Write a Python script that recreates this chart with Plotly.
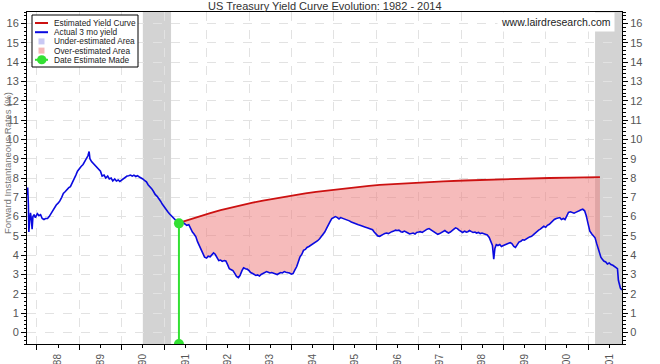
import plotly.graph_objects as go

# ---------------- data ----------------
blue_dates = [
    "1987-10-07", "1987-10-13", "1987-10-19", "1987-10-23", "1987-10-30", "1987-11-06", "1987-11-13",
    "1987-11-20", "1987-11-27", "1987-12-07", "1987-12-18",
    "1988-01-04", "1988-01-18", "1988-02-01", "1988-02-15", "1988-03-01", "1988-03-15",
    "1988-04-01", "1988-04-15", "1988-05-01", "1988-05-15", "1988-06-01", "1988-06-15",
    "1988-07-01", "1988-07-15", "1988-08-01", "1988-08-15", "1988-09-01", "1988-09-15",
    "1988-10-01", "1988-10-15", "1988-11-01", "1988-11-15", "1988-12-01", "1988-12-15",
    "1989-01-01", "1989-01-15", "1989-02-01", "1989-02-15", "1989-03-01", "1989-03-15", "1989-03-25",
    "1989-04-01", "1989-04-15", "1989-05-01", "1989-05-15", "1989-06-01", "1989-06-15",
    "1989-07-01", "1989-07-15", "1989-08-01", "1989-08-15", "1989-09-01", "1989-09-15",
    "1989-10-01", "1989-10-15", "1989-11-01", "1989-11-15", "1989-12-01", "1989-12-15",
    "1990-01-01", "1990-01-15", "1990-02-01", "1990-02-15", "1990-03-01", "1990-03-15",
    "1990-04-01", "1990-04-15", "1990-05-01", "1990-05-15", "1990-06-01", "1990-06-15",
    "1990-07-01", "1990-07-15", "1990-08-01", "1990-08-15", "1990-09-01", "1990-09-15",
    "1990-10-01", "1990-10-15", "1990-11-01", "1990-11-15", "1990-12-01", "1990-12-15",
    "1991-01-01", "1991-01-15", "1991-02-01", "1991-02-15", "1991-03-01", "1991-03-15",
    "1991-04-01", "1991-04-15", "1991-05-01", "1991-05-08", "1991-05-20",
    "1991-06-01", "1991-06-15", "1991-07-01", "1991-07-15", "1991-08-01", "1991-08-15",
    "1991-09-01", "1991-09-15", "1991-10-01", "1991-10-15", "1991-11-01", "1991-11-15",
    "1991-12-01", "1991-12-15",
    "1992-01-01", "1992-01-15", "1992-02-01", "1992-02-15", "1992-03-01", "1992-03-15",
    "1992-04-01", "1992-04-15", "1992-05-01", "1992-05-15", "1992-06-01", "1992-06-15",
    "1992-07-01", "1992-07-15", "1992-08-01", "1992-08-15", "1992-09-01", "1992-09-15",
    "1992-10-01", "1992-10-15", "1992-11-01", "1992-11-15", "1992-12-01", "1992-12-15",
    "1993-01-01", "1993-01-15", "1993-02-01", "1993-02-15", "1993-03-01", "1993-03-15",
    "1993-04-01", "1993-04-15", "1993-05-01", "1993-05-15", "1993-06-01", "1993-06-15",
    "1993-07-01", "1993-07-15", "1993-08-01", "1993-08-15", "1993-09-01", "1993-09-15",
    "1993-10-01", "1993-10-15", "1993-11-01", "1993-11-15", "1993-12-01", "1993-12-15",
    "1994-01-01", "1994-01-15", "1994-02-01", "1994-02-15", "1994-03-01", "1994-03-15",
    "1994-04-01", "1994-04-15", "1994-05-01", "1994-05-15", "1994-06-01", "1994-06-15",
    "1994-07-01", "1994-07-15", "1994-08-01", "1994-08-15", "1994-09-01", "1994-09-15",
    "1994-10-01", "1994-10-15", "1994-11-01", "1994-11-15", "1994-12-01", "1994-12-15",
    "1995-01-01", "1995-01-15", "1995-02-01", "1995-02-15", "1995-03-01", "1995-03-15",
    "1995-04-01", "1995-04-15", "1995-05-01", "1995-05-15", "1995-06-01", "1995-06-15",
    "1995-07-01", "1995-07-15", "1995-08-01", "1995-08-15", "1995-09-01", "1995-09-15",
    "1995-10-01", "1995-10-15", "1995-11-01", "1995-11-15", "1995-12-01", "1995-12-15",
    "1996-01-01", "1996-01-15", "1996-02-01", "1996-02-15", "1996-03-01", "1996-03-15",
    "1996-04-01", "1996-04-15", "1996-05-01", "1996-05-15", "1996-06-01", "1996-06-15",
    "1996-07-01", "1996-07-15", "1996-08-01", "1996-08-15", "1996-09-01", "1996-09-15",
    "1996-10-01", "1996-10-15", "1996-11-01", "1996-11-15", "1996-12-01", "1996-12-15",
    "1997-01-01", "1997-01-15", "1997-02-01", "1997-02-15", "1997-03-01", "1997-03-15",
    "1997-04-01", "1997-04-15", "1997-05-01", "1997-05-15", "1997-06-01", "1997-06-15",
    "1997-07-01", "1997-07-15", "1997-08-01", "1997-08-15", "1997-09-01", "1997-09-15",
    "1997-10-01", "1997-10-15", "1997-11-01", "1997-11-15", "1997-12-01", "1997-12-15",
    "1998-01-01", "1998-01-15", "1998-02-01", "1998-02-15", "1998-03-01", "1998-03-15",
    "1998-04-01", "1998-04-15", "1998-05-01", "1998-05-15", "1998-06-01", "1998-06-15",
    "1998-07-01", "1998-07-15", "1998-08-01", "1998-08-15", "1998-09-01", "1998-09-15",
    "1998-09-29", "1998-10-10", "1998-10-20", "1998-11-01", "1998-11-15", "1998-12-01", "1998-12-15",
    "1999-01-01", "1999-01-15", "1999-02-01", "1999-02-15", "1999-03-01", "1999-03-15",
    "1999-04-01", "1999-04-15", "1999-05-01", "1999-05-15", "1999-06-01", "1999-06-15",
    "1999-07-01", "1999-07-15", "1999-08-01", "1999-08-15", "1999-09-01", "1999-09-15",
    "1999-10-01", "1999-10-15", "1999-11-01", "1999-11-15", "1999-12-01", "1999-12-15",
    "2000-01-01", "2000-01-15", "2000-02-01", "2000-02-15", "2000-03-01", "2000-03-15",
    "2000-04-01", "2000-04-15", "2000-05-01", "2000-05-15", "2000-06-01", "2000-06-15",
    "2000-07-01", "2000-07-15", "2000-08-01", "2000-08-15", "2000-09-01", "2000-09-15",
    "2000-10-01", "2000-10-15", "2000-11-01", "2000-11-15", "2000-12-01", "2000-12-15",
    "2001-01-01", "2001-01-15", "2001-02-01", "2001-02-15", "2001-03-01", "2001-03-15",
    "2001-04-01", "2001-04-12", "2001-04-20", "2001-05-01", "2001-05-15", "2001-06-01",
    "2001-06-15", "2001-07-01", "2001-07-15", "2001-08-01", "2001-08-15", "2001-09-01",
    "2001-09-10", "2001-09-18", "2001-09-26", "2001-10-05", "2001-10-19",
]
blue_vals = [
    7.1, 7.5, 6.6, 5.2, 5.8, 6.2, 5.9,
    5.35, 6.0, 6.1, 5.95,
    6.15, 6.05, 6.1, 5.9, 5.85, 5.9,
    5.9, 6.0, 6.15, 6.3, 6.5, 6.6,
    6.7, 6.8, 7.0, 7.2, 7.3, 7.4,
    7.5, 7.55, 7.75, 7.95, 8.15, 8.35,
    8.5, 8.6, 8.7, 8.85, 9.0, 9.15, 9.37,
    9.0, 8.85, 8.75, 8.7, 8.55, 8.45,
    8.35, 8.1, 8.15, 8.0, 8.1, 7.95,
    8.0, 7.85, 7.95, 7.85, 7.9, 7.82,
    7.9, 7.95, 8.05, 8.1, 8.12, 8.15,
    8.1, 8.15, 8.08, 8.12, 8.05, 8.02,
    7.95, 7.88, 7.8, 7.65, 7.55, 7.45,
    7.3, 7.15, 7.05, 6.95, 6.8, 6.65,
    6.5, 6.35, 6.25, 6.15, 6.05, 5.95,
    5.85, 5.78, 5.7, 5.65, 5.7,
    5.62, 5.68, 5.6, 5.55, 5.58, 5.4,
    5.2, 5.1, 4.95, 4.7, 4.5, 4.3,
    4.1, 3.9,
    3.85, 3.95, 3.92, 4.0, 4.12, 4.05,
    3.9, 3.72, 3.75, 3.68, 3.72, 3.7,
    3.5, 3.3, 3.25, 3.2, 3.05, 2.9,
    2.84, 2.95, 3.2, 3.35, 3.3, 3.28,
    3.2, 3.1, 3.05, 3.0, 2.95, 2.98,
    2.92, 3.0, 3.05, 3.1, 3.15, 3.12,
    3.08, 3.1, 3.05, 3.02, 3.0, 3.05,
    3.1, 3.08, 3.15, 3.12, 3.1, 3.08,
    3.02, 3.05, 3.25, 3.4, 3.65, 3.9,
    4.05, 4.25, 4.3, 4.4, 4.45, 4.5,
    4.55, 4.6, 4.7, 4.75, 4.85, 4.95,
    5.1, 5.2, 5.4, 5.6, 5.75, 5.9,
    5.97, 6.0, 5.95, 5.88, 5.95, 5.92,
    5.9, 5.85, 5.82, 5.78, 5.72, 5.68,
    5.65, 5.6, 5.58, 5.55, 5.5, 5.48,
    5.45, 5.42, 5.38, 5.35, 5.32, 5.2,
    5.1, 5.0, 4.98, 5.05, 5.08, 5.12,
    5.15, 5.12, 5.18, 5.22, 5.25, 5.3,
    5.28, 5.3, 5.22, 5.2, 5.25, 5.18,
    5.15, 5.1, 5.12, 5.15, 5.1, 5.18,
    5.2, 5.22, 5.18, 5.25, 5.3, 5.35,
    5.38, 5.32, 5.25, 5.2, 5.12, 5.08,
    5.12, 5.18, 5.25, 5.28, 5.2, 5.15,
    5.2, 5.25, 5.35, 5.42, 5.38, 5.3,
    5.22, 5.18, 5.25, 5.2, 5.22, 5.28,
    5.22, 5.18, 5.2, 5.15, 5.18, 5.12,
    5.15, 5.12, 5.1, 5.05, 4.92, 4.7,
    4.5, 3.8, 4.35, 4.55, 4.5, 4.55, 4.45,
    4.5, 4.55, 4.6, 4.62, 4.65, 4.6,
    4.45, 4.4, 4.55, 4.68, 4.72, 4.8,
    4.78, 4.85, 4.9, 4.95, 4.98, 5.05,
    5.15, 5.2, 5.3, 5.35, 5.45, 5.5,
    5.45, 5.55, 5.6, 5.7, 5.75, 5.85,
    5.9, 5.93, 5.95, 5.85, 5.9, 5.85,
    6.1, 6.22, 6.25, 6.2, 6.18, 6.22,
    6.25, 6.3, 6.35, 6.38, 6.3, 6.05,
    5.6, 5.25, 5.1, 5.0, 4.9, 4.6,
    4.2, 4.05, 3.9, 3.8, 3.7, 3.65,
    3.55, 3.6, 3.52, 3.48, 3.4, 3.35,
    3.3, 2.7, 2.45, 2.3, 2.2,
]

est_dates = [
    "1991-05-08", "1991-08-01", "1991-11-01", "1992-02-01", "1992-05-01", "1992-08-01",
    "1992-11-01", "1993-02-01", "1993-05-01", "1993-08-01", "1993-11-01", "1994-02-01",
    "1994-05-01", "1994-08-01", "1994-11-01", "1995-02-01", "1995-05-01", "1995-08-01",
    "1995-11-01", "1996-02-01", "1996-08-01", "1997-02-01", "1997-08-01", "1998-02-01",
    "1998-08-01", "1999-02-01", "1999-08-01", "2000-02-01", "2000-08-01", "2001-02-01",
    "2001-04-12",
]
est_vals = [
    5.68, 5.85, 6.02, 6.18, 6.33, 6.47,
    6.6, 6.72, 6.83, 6.93, 7.03, 7.12,
    7.2, 7.28, 7.35, 7.42, 7.48, 7.54,
    7.59, 7.64, 7.71, 7.77, 7.82, 7.87,
    7.91, 7.95, 7.98, 8.0, 8.02, 8.04,
    8.05,
]

estimate_date = "1991-05-08"
estimate_value = 5.65

recession_starts = ["1990-07-01", "2001-03-01"]
recession_ends = ["1991-03-01", "2001-11-01"]

x_range = ["1987-10-07", "2001-10-19"]
y_range = [-0.6, 16.6]

legend_labels = ["Estimated Yield Curve", "Actual 3 mo yield", "Under-estimated Area",
                 "Over-estimated Area", "Date Estimate Made"]

title_text = "US Treasury Yield Curve Evolution: 1982 - 2014"
y_title = "Forward Instantaneous Rates (%)"
watermark = "www.lairdresearch.com"

# ---------------- styling ----------------
W, H = 660, 364
ML, MR, MT, MB = 27, 38, 12, 20
PW, PH = W - ML - MR, H - MT - MB
FONT = "Liberation Sans, Arial, sans-serif"
BLUE = "#0a0ae0"
RED = "#cc1111"
GREEN = "#33e033"
PINK = "rgba(238,120,120,0.5)"
LAV = "#c9c9f4"
GRID = "#e2e2e2"


def px(x):
    return (x - ML) / PW


def py(y):
    return (H - MB - y) / PH


fig = go.Figure()

# fill between estimate and actual (base = actual subset)
sub_x = [d for d in blue_dates if est_dates[0] <= d <= est_dates[-1]]
sub_y = [v for d, v in zip(blue_dates, blue_vals) if est_dates[0] <= d <= est_dates[-1]]
fig.add_trace(go.Scatter(x=sub_x, y=sub_y, mode="lines", line=dict(width=0, color=BLUE),
                         showlegend=False, hoverinfo="skip"))
fig.add_trace(go.Scatter(x=est_dates, y=est_vals, mode="lines", fill="tonexty",
                         fillcolor=PINK, line=dict(color=RED, width=1.8),
                         showlegend=False, name=legend_labels[0]))
fig.add_trace(go.Scatter(x=blue_dates, y=blue_vals, mode="lines",
                         line=dict(color=BLUE, width=1.6), showlegend=False,
                         name=legend_labels[1]))
fig.add_trace(go.Scatter(x=[estimate_date, estimate_date], y=[estimate_value, y_range[0]],
                         mode="lines+markers", line=dict(color=GREEN, width=2),
                         marker=dict(color=GREEN, size=10, line=dict(width=0)),
                         showlegend=False, name=legend_labels[4]))
# invisible trace to activate the right-hand axis
fig.add_trace(go.Scatter(x=[estimate_date], y=[estimate_value], yaxis="y2", mode="markers",
                         marker=dict(opacity=0), showlegend=False, hoverinfo="skip"))

shapes = []
for s, e in zip(recession_starts, recession_ends):
    shapes.append(dict(type="rect", xref="x", yref="paper", x0=s, x1=e, y0=0, y1=1,
                       fillcolor="#d3d3d3", line=dict(width=0), layer="below"))

# manual legend
item_y = [23, 32.2, 41.4, 50.6, 59.8]
shapes.append(dict(type="rect", xref="paper", yref="paper", x0=px(32), x1=px(138),
                   y0=py(67), y1=py(15), fillcolor="white", line=dict(color="black", width=1),
                   layer="above"))
shapes.append(dict(type="line", xref="paper", yref="paper", x0=px(35), x1=px(48),
                   y0=py(item_y[0]), y1=py(item_y[0]), line=dict(color=RED, width=2), layer="above"))
shapes.append(dict(type="line", xref="paper", yref="paper", x0=px(35), x1=px(48),
                   y0=py(item_y[1]), y1=py(item_y[1]), line=dict(color=BLUE, width=2), layer="above"))
shapes.append(dict(type="rect", xref="paper", yref="paper", x0=px(38.5), x1=px(44.5),
                   y0=py(item_y[2] + 3), y1=py(item_y[2] - 3), fillcolor=LAV,
                   line=dict(width=0), layer="above"))
shapes.append(dict(type="rect", xref="paper", yref="paper", x0=px(38.5), x1=px(44.5),
                   y0=py(item_y[3] + 3), y1=py(item_y[3] - 3), fillcolor="#f5b8b8",
                   line=dict(width=0), layer="above"))
shapes.append(dict(type="line", xref="paper", yref="paper", x0=px(35), x1=px(48),
                   y0=py(item_y[4]), y1=py(item_y[4]), line=dict(color=GREEN, width=2), layer="above"))
shapes.append(dict(type="circle", xref="paper", yref="paper", x0=px(37), x1=px(46.5),
                   y0=py(item_y[4] + 4.5), y1=py(item_y[4] - 4.5), fillcolor=GREEN,
                   line=dict(width=0), layer="above"))

annotations = []
for lab, yy in zip(legend_labels, item_y):
    annotations.append(dict(text=lab, xref="paper", yref="paper", x=px(53), y=py(yy),
                            xanchor="left", yanchor="middle", showarrow=False, borderpad=0,
                            font=dict(family=FONT, size=8.3, color="#222")))
annotations.append(dict(text=title_text, xref="paper", yref="paper", x=px(325), y=py(6),
                        xanchor="center", yanchor="middle", showarrow=False,
                        font=dict(family=FONT, size=11, color="#333")))
annotations.append(dict(text=y_title, xref="paper", yref="paper", x=px(7), y=py(163),
                        xanchor="center", yanchor="middle", textangle=-90, showarrow=False,
                        font=dict(family=FONT, size=9.5, color="#777")))
annotations.append(dict(text=watermark, xref="paper", yref="paper", x=px(615), y=py(22.5),
                        xanchor="right", yanchor="middle", showarrow=False, bgcolor="white",
                        borderpad=3, font=dict(family=FONT, size=10.5, color="#222")))

yaxis_common = dict(range=y_range, tick0=0, dtick=1, ticks="outside", ticklen=5,
                    tickcolor="black", showline=True, linecolor="black", linewidth=1,
                    zeroline=False, automargin=False,
                    tickfont=dict(family=FONT, size=11, color="#555"),
                    minor=dict(ticks="outside", dtick=0.2, ticklen=2.5, tickcolor="black",
                               showgrid=False))

fig.update_layout(
    width=W, height=H,
    margin=dict(l=ML, r=MR, t=MT, b=MB, pad=0),
    paper_bgcolor="white", plot_bgcolor="white",
    font=dict(family=FONT),
    showlegend=False,
    xaxis=dict(type="date", range=x_range, tick0="1988-01-01", dtick="M12",
               ticklabelmode="period", tickformat="%y", tickangle=-90,
               ticks="outside", ticklen=5, tickcolor="black",
               showline=True, linecolor="black", linewidth=1, mirror=True,
               showgrid=True, gridcolor=GRID, griddash="dash", gridwidth=1,
               zeroline=False, automargin=False,
               tickfont=dict(family=FONT, size=10, color="#555"),
               minor=dict(ticks="outside", dtick="M6", ticklen=3, tickcolor="black",
                          showgrid=False)),
    yaxis=dict(**yaxis_common, mirror=True, showgrid=True, gridcolor=GRID,
               griddash="dash", gridwidth=1),
    yaxis2=dict(**yaxis_common, overlaying="y", side="right", showgrid=False),
    shapes=shapes,
    annotations=annotations,
)

fig.write_html(
    "out.html",
    config={"displayModeBar": False},
    post_script="document.body.style.margin='0';document.body.style.overflow='hidden';",
)
